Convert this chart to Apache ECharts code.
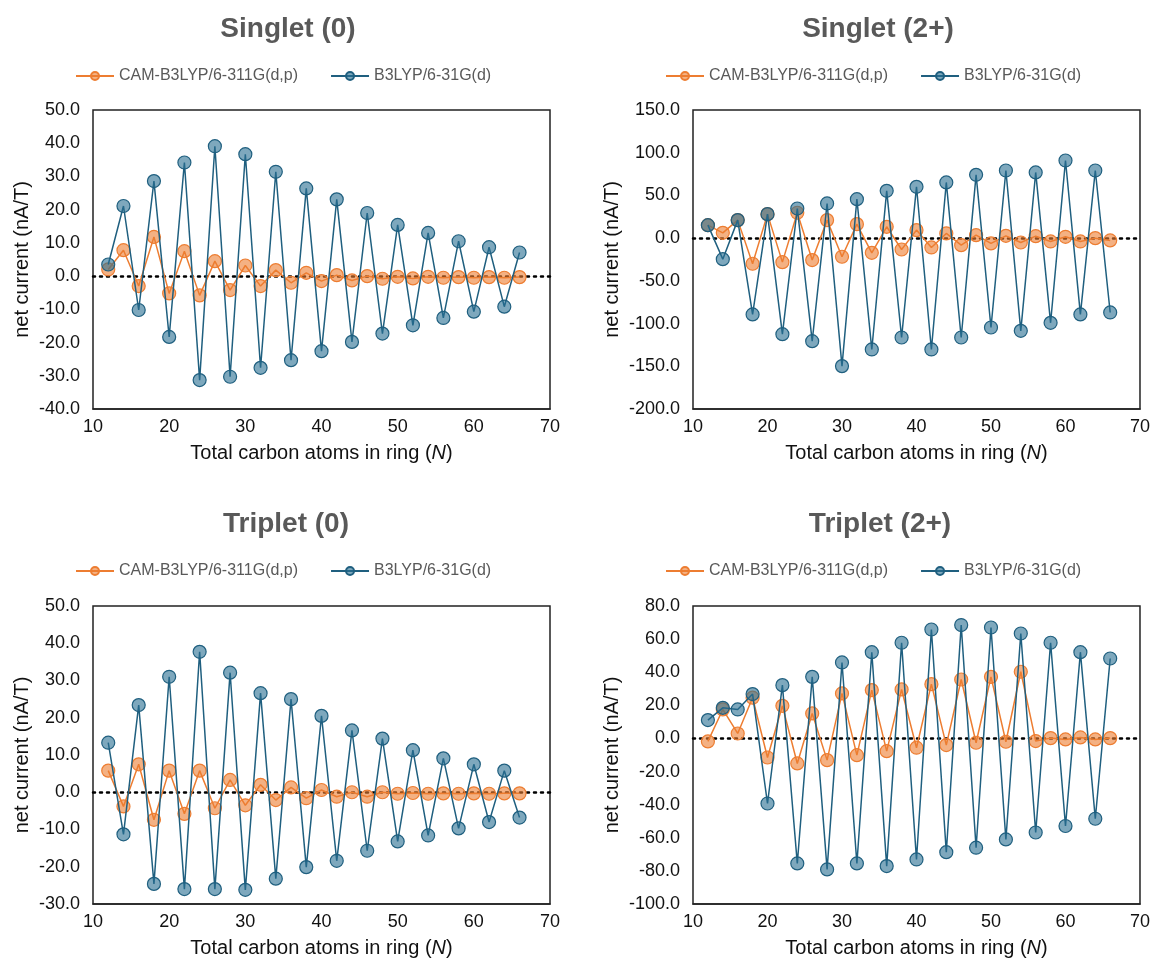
<!DOCTYPE html>
<html>
<head>
<meta charset="utf-8">
<script src="https://cdn.jsdelivr.net/npm/echarts@6/dist/echarts.min.js"></script>
<style>
html,body{margin:0;padding:0;background:#fff;}
#chart{width:1153px;height:961px;}
</style>
</head>
<body>
<div id="chart"></div>
<script>
const N = [12,14,16,18,20,22,24,26,28,30,32,34,36,38,40,42,44,46,48,50,52,54,56,58,60,62,64,66];

const titles = ['Singlet (0)', 'Singlet (2+)', 'Triplet (0)', 'Triplet (2+)'];
const seriesNames = ['CAM-B3LYP/6-311G(d,p)', 'B3LYP/6-31G(d)'];

const singlet0_cam = [2.0,7.8,-3.0,11.8,-5.2,7.5,-5.8,4.5,-4.2,3.2,-3.0,1.8,-2.0,1.0,-1.5,0.3,-1.3,0.0,-0.8,-0.2,-0.7,-0.2,-0.5,-0.3,-0.5,-0.3,-0.5,-0.3];
const singlet0_b3 = [3.5,21.1,-10.2,28.6,-18.3,34.2,-31.3,39.1,-30.3,36.7,-27.6,31.4,-25.3,26.4,-22.6,23.1,-19.8,19.0,-17.3,15.4,-14.8,13.0,-12.6,10.5,-10.7,8.7,-9.2,7.1];

const singlet2_cam = [15.2,6.2,21.1,-30.0,28.1,-28.1,29.7,-25.7,21.1,-21.8,16.4,-17.2,13.3,-13.3,9.4,-10.9,5.5,-8.2,3.5,-6.2,2.7,-5.1,2.3,-3.9,1.6,-3.9,0.0,-2.7];
const singlet2_b3 = [15.2,-24.6,21.1,-89.3,28.1,-112.4,34.7,-120.6,40.6,-149.8,45.6,-130.3,55.4,-116.3,60.1,-130.3,65.2,-116.3,74.1,-104.6,79.2,-108.5,76.9,-99.1,90.9,-89.3,79.2,-87.0];

const triplet0_cam = [5.8,-3.8,7.5,-7.4,5.8,-5.8,5.8,-4.3,3.3,-3.5,2.0,-2.1,1.3,-1.6,0.6,-1.2,0.0,-1.2,0.0,-0.4,-0.2,-0.4,-0.3,-0.4,-0.3,-0.4,-0.3,-0.3];
const triplet0_b3 = [13.3,-11.3,23.4,-24.6,31.0,-26.0,37.7,-26.0,32.1,-26.2,26.6,-23.2,25.0,-20.1,20.5,-18.4,16.6,-15.7,14.4,-13.2,11.3,-11.6,9.1,-9.7,7.5,-8.0,5.8,-6.8];

const triplet2_cam = [-1.8,17.5,3.0,24.6,-11.5,19.7,-15.1,15.1,-13.1,27.2,-10.1,29.2,-7.7,29.6,-5.6,32.8,-4.0,35.6,-2.6,37.2,-2.0,40.3,-1.6,0.2,-0.6,0.6,-0.6,0.2];
const triplet2_b3 = [11.1,18.5,17.5,26.8,-39.3,32.2,-75.5,37.2,-79.1,45.9,-75.5,52.1,-77.1,57.8,-73.1,65.8,-68.7,68.5,-66.0,67.0,-61.0,63.4,-56.8,57.8,-52.9,52.1,-48.5,48.3];

const yMin = [-40, -200, -30, -100];
const yMax = [50, 150, 50, 80];
const yStep = [10, 50, 10, 20];
const xMin = 10, xMax = 70, xStep = 10;

const camData = [singlet0_cam, singlet2_cam, triplet0_cam, triplet2_cam];
const b3Data = [singlet0_b3, singlet2_b3, triplet0_b3, triplet2_b3];

// layout
const grids = [
  {left: 93, top: 110, width: 457, height: 299},
  {left: 693, top: 110, width: 448, height: 299},
  {left: 93, top: 606, width: 457, height: 298},
  {left: 693, top: 606, width: 448, height: 298}
];
const titlePos = [
  {x: 283, y: 10}, {x: 873, y: 10}, {x: 281, y: 505}, {x: 875, y: 505}
];
const legendTop = [63, 63, 558, 558];
const legendLeft = [70, 660, 70, 660];

const FONT = '"Liberation Sans", Arial, Helvetica, sans-serif';
const orange = '#ED7D31';
const blue = '#1F5F7F';

const chart = echarts.init(document.getElementById('chart'), null, {renderer: 'canvas'});

const pair = (arr) => N.map((n, i) => [n, arr[i]]);

const option = {
  animation: false,
  backgroundColor: '#fff',
  textStyle: {fontFamily: FONT},
  title: titles.map((t, i) => ({
    text: t,
    left: titlePos[i].x, top: titlePos[i].y,
    textAlign: 'center',
    textStyle: {fontFamily: FONT, fontSize: 28, fontWeight: 'bold', color: '#595959'}
  })),
  legend: [0,1,2,3].map(i => ({
    data: seriesNames,
    left: legendLeft[i],
    top: legendTop[i],
    itemWidth: 38,
    itemHeight: 10,
    itemGap: 32,
    textStyle: {fontFamily: FONT, fontSize: 16, color: '#595959'},
    selectedMode: false
  })),
  grid: grids.map(g => Object.assign({show: true, borderColor: '#222', borderWidth: 1.5, backgroundColor: 'transparent', containLabel: false}, g)),
  xAxis: [0,1,2,3].map(i => ({
    type: 'value', gridIndex: i, min: xMin, max: xMax, interval: xStep,
    axisLine: {show: true, onZero: false, lineStyle: {color: '#222', width: 1.5}},
    axisTick: {show: false},
    splitLine: {show: false},
    axisLabel: {fontFamily: FONT, fontSize: 18, color: '#111', margin: 9},
    name: 'Total carbon atoms in ring ({it|N})',
    nameLocation: 'middle',
    nameGap: 34,
    nameTextStyle: {fontFamily: FONT, fontSize: 20, color: '#111',
      rich: {it: {fontFamily: FONT, fontSize: 20, fontStyle: 'italic', color: '#111'}}}
  })),
  yAxis: [0,1,2,3].map(i => ({
    type: 'value', gridIndex: i, min: yMin[i], max: yMax[i], interval: yStep[i],
    axisLine: {show: false},
    axisTick: {show: false},
    splitLine: {show: false},
    axisLabel: {fontFamily: FONT, fontSize: 18, color: '#111', margin: 13,
      formatter: v => v.toFixed(1)},
    name: 'net current (nA/T)',
    nameLocation: 'middle',
    nameGap: i % 2 === 0 ? 61 : 71,
    nameRotate: 90,
    nameTextStyle: {fontFamily: FONT, fontSize: 20, color: '#111'}
  })),
  series: []
};

for (let i = 0; i < 4; i++) {
  option.series.push({
    name: seriesNames[0], type: 'line', xAxisIndex: i, yAxisIndex: i,
    data: pair(camData[i]),
    symbol: 'circle', symbolSize: 13,
    lineStyle: {color: orange, width: 1.5},
    itemStyle: {color: 'rgba(237,125,49,0.6)', borderColor: orange, borderWidth: 1.2},
    z: 3
  });
  option.series.push({
    name: seriesNames[1], type: 'line', xAxisIndex: i, yAxisIndex: i,
    data: pair(b3Data[i]),
    symbol: 'circle', symbolSize: 13,
    lineStyle: {color: blue, width: 1.5},
    itemStyle: {color: 'rgba(40,110,145,0.6)', borderColor: blue, borderWidth: 1.2},
    z: 4,
    markLine: {
      silent: true, symbol: 'none', label: {show: false},
      lineStyle: {type: [2, 5], color: '#000', width: 2.5, cap: 'round'},
      data: [{yAxis: 0}],
      z: 2
    }
  });
}

chart.setOption(option);
</script>
</body>
</html>
